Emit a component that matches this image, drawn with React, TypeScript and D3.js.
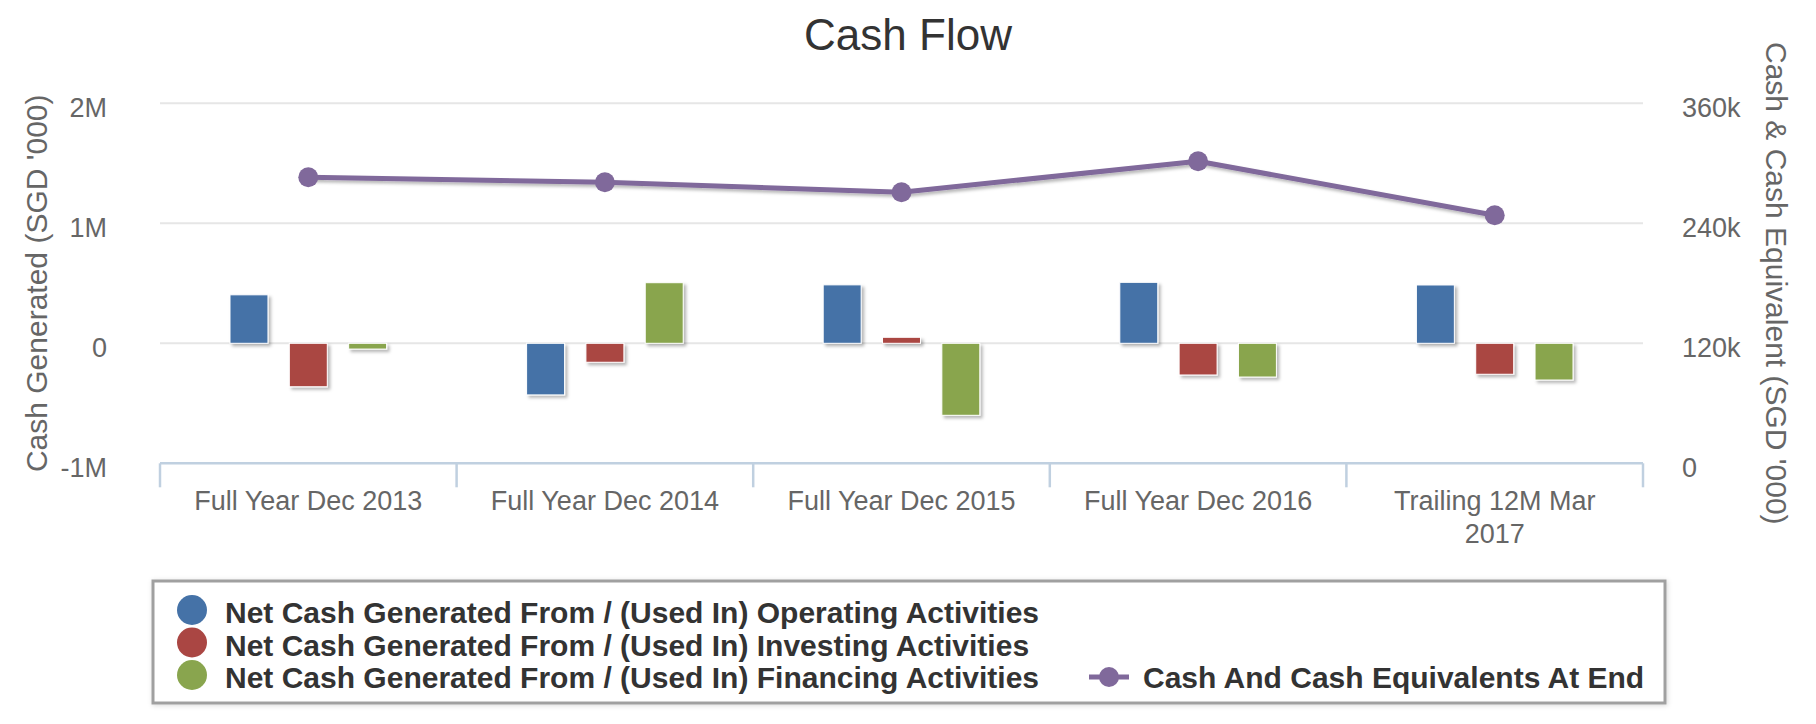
import React, { useEffect, useRef } from 'react';
import * as d3 from 'd3';

// values in SGD '000
const categories = [
  'Full Year Dec 2013',
  'Full Year Dec 2014',
  'Full Year Dec 2015',
  'Full Year Dec 2016',
  'Trailing 12M Mar 2017',
];
const operating = [404000, -430000, 487000, 508000, 486000];
const investing = [-362000, -158000, 50000, -264000, -258000];
const financing = [-48000, 505000, -600000, -281000, -306000];
const cashEnd = [286000, 281000, 271000, 302000, 248000];

const barSeries = [
  { name: 'Net Cash Generated From / (Used In) Operating Activities', values: operating, color: '#4572A7' },
  { name: 'Net Cash Generated From / (Used In) Investing Activities', values: investing, color: '#AA4643' },
  { name: 'Net Cash Generated From / (Used In) Financing Activities', values: financing, color: '#89A54E' },
];
const lineName = 'Cash And Cash Equivalents At End';
const lineColor = '#80699B';

const leftTicks = [-1000000, 0, 1000000, 2000000];
const rightTicks = [0, 120000, 240000, 360000];

const W = 1816;
const H = 724;
const FONT = '"Liberation Sans", Arial, Helvetica, sans-serif';

const App = () => {
  const svgRef = useRef<SVGSVGElement>(null);

  useEffect(() => {
    const root = d3.select(svgRef.current);
    root.selectAll('*').remove();
    const svg = root.attr('width', W).attr('height', H).style('font-family', FONT);

    const defs = svg.append('defs');
    const f = defs.append('filter').attr('id', 'shadow').attr('x', '-20%').attr('y', '-20%').attr('width', '140%').attr('height', '140%');
    f.append('feDropShadow').attr('dx', 2.5).attr('dy', 2.5).attr('stdDeviation', 1.8)
      .attr('flood-color', '#000').attr('flood-opacity', 0.28);
    const f2 = defs.append('filter').attr('id', 'legendShadow').attr('x', '-5%').attr('y', '-20%').attr('width', '110%').attr('height', '140%');
    f2.append('feDropShadow').attr('dx', 1).attr('dy', 1).attr('stdDeviation', 2.5)
      .attr('flood-color', '#000').attr('flood-opacity', 0.15);

    const left = 160, right = 1643, top = 103.3, bottom = 463.3;

    const x0 = d3.scaleBand().domain(categories).range([left, right]).padding(0);
    const bw = x0.bandwidth();
    const x1 = d3.scaleBand().domain(barSeries.map(s => s.name))
      .range([bw * 0.2, bw * 0.8]).paddingInner(0.36).paddingOuter(0.18);
    const yL = d3.scaleLinear().domain([-1000000, 2000000]).range([bottom, top]);
    const yR = d3.scaleLinear().domain([0, 360000]).range([bottom, top]);

    // title
    svg.append('text').attr('x', W / 2).attr('y', 50).attr('text-anchor', 'middle')
      .attr('font-size', 44).attr('fill', '#333333').text('Cash Flow');

    // grid
    svg.append('g').selectAll('line').data(leftTicks.filter(t => t > -1000000)).enter().append('line')
      .attr('x1', left).attr('x2', right)
      .attr('y1', (d: any) => yL(d)).attr('y2', (d: any) => yL(d))
      .attr('stroke', '#e6e6e6').attr('stroke-width', 2);

    // left axis labels
    svg.append('g').selectAll('text').data(leftTicks).enter().append('text')
      .attr('x', 107).attr('y', (d: any) => yL(d) + 14).attr('text-anchor', 'end')
      .attr('font-size', 27).attr('fill', '#666666')
      .text((d: any) => (d === 0 ? '0' : `${d / 1000000}M`));

    // right axis labels
    svg.append('g').selectAll('text').data(rightTicks).enter().append('text')
      .attr('x', 1682).attr('y', (d: any) => yR(d) + 14).attr('text-anchor', 'start')
      .attr('font-size', 27).attr('fill', '#666666')
      .text((d: any) => (d === 0 ? '0' : `${d / 1000}k`));

    // axis titles
    svg.append('text').attr('transform', `translate(47,${(top + bottom) / 2}) rotate(-90)`)
      .attr('text-anchor', 'middle').attr('font-size', 30).attr('fill', '#666666')
      .text("Cash Generated (SGD '000)");
    svg.append('text').attr('transform', `translate(1766,${(top + bottom) / 2}) rotate(90)`)
      .attr('text-anchor', 'middle').attr('font-size', 30).attr('fill', '#666666')
      .text("Cash & Cash Equivalent (SGD '000)");

    // bars
    const zero = yL(0);
    barSeries.forEach(s => {
      svg.append('g').attr('fill', s.color).attr('filter', 'url(#shadow)')
        .selectAll('rect').data(s.values).enter().append('rect')
        .attr('x', (_d: any, i: number) => (x0(categories[i]) ?? 0) + (x1(s.name) ?? 0))
        .attr('y', (d: any) => Math.min(yL(d), zero))
        .attr('width', x1.bandwidth())
        .attr('height', (d: any) => Math.abs(yL(d) - zero))
        .attr('stroke', '#ffffff').attr('stroke-width', 1);
    });

    // x axis
    const xg = svg.append('g');
    xg.append('line').attr('x1', left).attr('x2', right).attr('y1', bottom).attr('y2', bottom)
      .attr('stroke', '#C0D0E0').attr('stroke-width', 2.5);
    const bounds = categories.map(c => x0(c) ?? 0).concat([right]);
    xg.selectAll('line.tick').data(bounds).enter().append('line').attr('class', 'tick')
      .attr('x1', (d: any) => d).attr('x2', (d: any) => d)
      .attr('y1', bottom).attr('y2', bottom + 24)
      .attr('stroke', '#C0D0E0').attr('stroke-width', 2.5);

    // x labels, wrapped to the category width
    categories.forEach(c => {
      const cx = (x0(c) ?? 0) + bw / 2;
      const t = xg.append('text').attr('x', cx).attr('y', 510).attr('text-anchor', 'middle')
        .attr('font-size', 27).attr('fill', '#666666');
      const words = c.split(' ');
      let line: string[] = [];
      let tspan = t.append('tspan').attr('x', cx).attr('dy', 0);
      words.forEach(w => {
        line.push(w);
        tspan.text(line.join(' '));
        const len = (tspan.node() as SVGTSpanElement).getComputedTextLength();
        if (len > bw * 0.85 && line.length > 1) {
          line.pop();
          tspan.text(line.join(' '));
          line = [w];
          tspan = t.append('tspan').attr('x', cx).attr('dy', 33).text(w);
        }
      });
    });

    // line series
    const lineGen = d3.line<number>()
      .x((_d, i) => (x0(categories[i]) ?? 0) + bw / 2)
      .y(d => yR(d));
    svg.append('path').datum(cashEnd).attr('d', lineGen as any)
      .attr('fill', 'none').attr('stroke', lineColor).attr('stroke-width', 5)
      .attr('stroke-linejoin', 'round').attr('stroke-linecap', 'round')
      .attr('filter', 'url(#shadow)');
    svg.append('g').selectAll('circle').data(cashEnd).enter().append('circle')
      .attr('cx', (_d: any, i: number) => (x0(categories[i]) ?? 0) + bw / 2)
      .attr('cy', (d: any) => yR(d)).attr('r', 10).attr('fill', lineColor);

    // legend
    const lg = svg.append('g');
    lg.append('rect').attr('x', 153).attr('y', 581).attr('width', 1512).attr('height', 122)
      .attr('fill', '#ffffff').attr('stroke', '#a0a0a0').attr('stroke-width', 3)
      .attr('filter', 'url(#legendShadow)');
    barSeries.forEach((s, i) => {
      const cy = 610 + i * 32.5;
      lg.append('circle').attr('cx', 192).attr('cy', cy).attr('r', 15).attr('fill', s.color);
      lg.append('text').attr('x', 225).attr('y', cy + 13).attr('font-size', 30).attr('font-weight', 'bold')
        .attr('fill', '#333333').text(s.name);
    });
    const ly = 610 + 2 * 32.5 + 2;
    lg.append('line').attr('x1', 1089).attr('x2', 1129).attr('y1', ly).attr('y2', ly)
      .attr('stroke', lineColor).attr('stroke-width', 5);
    lg.append('circle').attr('cx', 1109).attr('cy', ly).attr('r', 10).attr('fill', lineColor);
    lg.append('text').attr('x', 1143).attr('y', 675 + 13).attr('font-size', 30).attr('font-weight', 'bold')
      .attr('fill', '#333333').text(lineName);
  }, []);

  return (
    <div style={{ position: 'absolute', left: 0, top: 0, width: W, height: H, background: '#fff' }}>
      <svg ref={svgRef} width={W} height={H} />
    </div>
  );
};

export default App;
